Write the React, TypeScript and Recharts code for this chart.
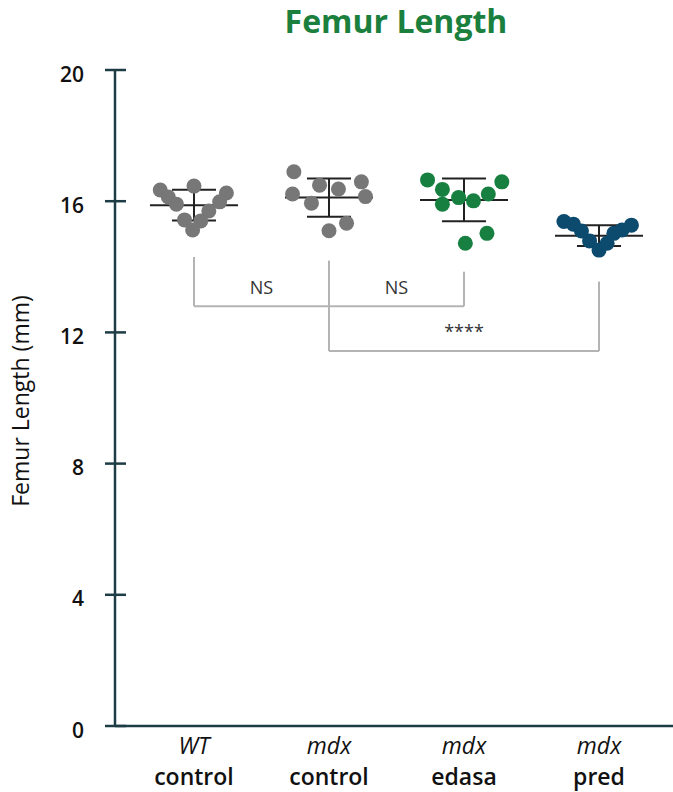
import { ComposedChart, Scatter, XAxis, YAxis, ReferenceLine, ReferenceDot } from "recharts";

// groups along x (1..4)
const groupTop = ["WT", "mdx", "mdx", "mdx"];
const groupBottom = ["control", "control", "edasa", "pred"];
const groupColors = ["#777777", "#777777", "#178040", "#0c4a6e"];

// femur length (mm) per animal, with the horizontal jitter used in the dot plot
const wtControl = [16.34, 16.13, 15.91, 16.46, 16.25, 15.98, 15.7, 15.4, 15.43, 15.12];
const wtControlJitter = [-0.25, -0.19, -0.13, 0, 0.24, 0.19, 0.11, 0.05, -0.07, -0.01];
const mdxControl = [16.9, 16.49, 16.37, 16.59, 16.22, 15.94, 16.14, 15.33, 15.1];
const mdxControlJitter = [-0.26, -0.07, 0.07, 0.24, -0.27, -0.13, 0.27, 0.13, 0];
const mdxEdasa = [16.65, 16.36, 15.91, 16.11, 16.01, 16.22, 16.59, 15.02, 14.72];
const mdxEdasaJitter = [-0.27, -0.16, -0.16, -0.04, 0.07, 0.18, 0.28, 0.17, 0.01];
const mdxPred = [15.38, 15.3, 15.09, 14.79, 14.51, 14.72, 15.02, 15.12, 15.27];
const mdxPredJitter = [-0.26, -0.19, -0.13, -0.07, 0, 0.06, 0.11, 0.17, 0.24];

const means = [15.88, 16.11, 16.04, 14.95];
const sds = [0.47, 0.585, 0.65, 0.315];

const yTicks = [0, 4, 8, 12, 16, 20];

// significance brackets: [from group, to group, left leg top, right leg top, bar level]
const brackets = [
  { from: 1, to: 3, leftTop: 14.3, rightTop: 13.85, level: 12.8 },
  { from: 2, to: 4, leftTop: 14.19, rightTop: 13.55, level: 11.43 },
];
const sigLabels = [
  { x: 1.5, y: 13.38, text: "NS" },
  { x: 2.5, y: 13.38, text: "NS" },
  { x: 3, y: 12.01, text: "****" },
];

const MEAN_HALF = 0.326;
const CAP_HALF = 0.163;
const AXIS = "#1d3c45";
const FONT = "'Open Sans', sans-serif";

const groups = [
  [wtControl, wtControlJitter],
  [mdxControl, mdxControlJitter],
  [mdxEdasa, mdxEdasaJitter],
  [mdxPred, mdxPredJitter],
].map(([vals, jit], i) => vals.map((v, k) => ({ x: i + 1 + jit[k], y: v })));

function YTick(props: any) {
  const { x, y, payload } = props;
  return (
    <g>
      <line x1={x + 21} x2={x + 42} y1={y} y2={y} stroke={AXIS} strokeWidth={2.5} />
      <text x={x} y={y} dy={11.5} textAnchor="end" fontSize={21} fontWeight={600} fill="#111" fontFamily={FONT}>
        {payload.value}
      </text>
    </g>
  );
}

function XTick(props: any) {
  const { x, y, payload } = props;
  const i = Math.round(payload.value) - 1;
  return (
    <g>
      <text x={x} y={y + 28} textAnchor="middle" fontSize={23} fontStyle="italic" fill="#111" fontFamily={FONT}>
        {groupTop[i]}
      </text>
      <text x={x} y={y + 59} textAnchor="middle" fontSize={23} fontWeight={600} fill="#111" fontFamily={FONT}>
        {groupBottom[i]}
      </text>
    </g>
  );
}

export default function App() {
  return (
    <div style={{ position: "absolute", left: 0, top: 0, width: 673, height: 792, background: "#fff", fontFamily: FONT }}>
      <div
        style={{
          position: "absolute",
          left: 396,
          top: 5,
          transform: "translateX(-50%)",
          fontSize: 32,
          lineHeight: "32px",
          fontWeight: 700,
          color: "#1b7f3e",
          whiteSpace: "nowrap",
        }}
      >
        Femur Length
      </div>
      <div
        style={{
          position: "absolute",
          left: 20,
          top: 401,
          transform: "translate(-50%, -50%) rotate(-90deg)",
          fontSize: 23,
          color: "#111",
          whiteSpace: "nowrap",
        }}
      >
        Femur Length (mm)
      </div>
      <ComposedChart width={673} height={792} margin={{ top: 70, right: 0, bottom: 0, left: 0 }}>
        <XAxis
          type="number"
          dataKey="x"
          domain={[0.415, 4.548]}
          ticks={[1, 2, 3, 4]}
          allowDataOverflow
          height={66}
          axisLine={{ stroke: AXIS, strokeWidth: 2.5 }}
          tickLine={false}
          tickSize={0}
          tickMargin={0}
          tick={<XTick />}
        />
        <YAxis
          type="number"
          dataKey="y"
          domain={[0, 20]}
          ticks={yTicks}
          width={115}
          axisLine={{ stroke: AXIS, strokeWidth: 2.5 }}
          tickLine={false}
          tickSize={10}
          tickMargin={21}
          tick={<YTick />}
        />
        {groups.map((pts, i) => (
          <Scatter
            key={"g" + i}
            data={pts}
            isAnimationActive={false}
            shape={(p: any) => <circle cx={p.cx} cy={p.cy} r={7.5} fill={groupColors[i]} />}
          />
        ))}
        {means.map((m, i) => (
          <ReferenceLine
            key={"m" + i}
            segment={[{ x: i + 1 - MEAN_HALF, y: m }, { x: i + 1 + MEAN_HALF, y: m }]}
            stroke="#222"
            strokeWidth={2}
            ifOverflow="visible"
          />
        ))}
        {means.map((m, i) => (
          <ReferenceLine
            key={"v" + i}
            segment={[{ x: i + 1, y: m - sds[i] }, { x: i + 1, y: m + sds[i] }]}
            stroke="#222"
            strokeWidth={2}
            ifOverflow="visible"
          />
        ))}
        {means.map((m, i) => (
          <ReferenceLine
            key={"t" + i}
            segment={[{ x: i + 1 - CAP_HALF, y: m + sds[i] }, { x: i + 1 + CAP_HALF, y: m + sds[i] }]}
            stroke="#222"
            strokeWidth={2}
            ifOverflow="visible"
          />
        ))}
        {means.map((m, i) => (
          <ReferenceLine
            key={"b" + i}
            segment={[{ x: i + 1 - CAP_HALF, y: m - sds[i] }, { x: i + 1 + CAP_HALF, y: m - sds[i] }]}
            stroke="#222"
            strokeWidth={2}
            ifOverflow="visible"
          />
        ))}
        {brackets.map((b, i) => (
          <ReferenceLine
            key={"bl" + i}
            segment={[{ x: b.from, y: b.leftTop }, { x: b.from, y: b.level }]}
            stroke="#b4b4b4"
            strokeWidth={2}
            ifOverflow="visible"
          />
        ))}
        {brackets.map((b, i) => (
          <ReferenceLine
            key={"bh" + i}
            segment={[{ x: b.from, y: b.level }, { x: b.to, y: b.level }]}
            stroke="#b4b4b4"
            strokeWidth={2}
            ifOverflow="visible"
          />
        ))}
        {brackets.map((b, i) => (
          <ReferenceLine
            key={"br" + i}
            segment={[{ x: b.to, y: b.rightTop }, { x: b.to, y: b.level }]}
            stroke="#b4b4b4"
            strokeWidth={2}
            ifOverflow="visible"
          />
        ))}
        {sigLabels.map((s, i) => (
          <ReferenceDot
            key={"s" + i}
            x={s.x}
            y={s.y}
            r={0}
            fill="none"
            stroke="none"
            ifOverflow="visible"
            label={{ value: s.text, position: "center", fontSize: 18, fill: "#333", fontFamily: FONT }}
          />
        ))}
      </ComposedChart>
    </div>
  );
}
